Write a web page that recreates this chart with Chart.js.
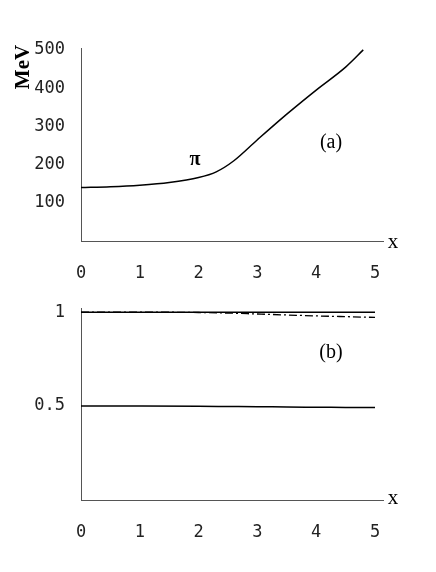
<!DOCTYPE html>
<html><head><meta charset="utf-8">
<script src="https://cdn.jsdelivr.net/npm/chart.js@4/dist/chart.umd.min.js"></script>
<style>body{margin:0;background:#fff}canvas{position:absolute;left:0}</style>
</head><body>
<div style="position:absolute;left:0;top:0;width:436px;height:290px"><canvas id="c1"></canvas></div>
<div style="position:absolute;left:0;top:290px;width:436px;height:282px"><canvas id="c2"></canvas></div>
<script>
const xTicks=[0,1,2,3,4,5];
const yTicksA=[100,200,300,400,500];
const yTicksB=[0.5,1];
const piX=[0,0.5,1,1.5,2,2.3,2.6,3,3.5,4,4.5,4.8];
const piY=[140,142,146,153,166,181,210,265,332,395,455,500];
const bX=[0,1,2,2.5,3,3.5,4,4.5,5];
const bTop=[1,1,1,1,1,1,1,1,1];
const bDash=[1,1,0.998,0.995,0.99,0.985,0.98,0.976,0.972];
const bHalf=[0.5,0.5,0.499,0.498,0.497,0.495,0.494,0.493,0.492];

const tickFont={family:'DejaVu Sans Mono',size:17};
function pts(xs,ys){return xs.map((x,i)=>({x,y:ys[i]}));}
function texts(list){return{id:'t',afterDraw(ch){const c=ch.ctx;c.save();c.fillStyle='#000';c.textAlign='center';c.textBaseline='middle';
 for(const t of list){c.font=t.f;if(t.r){c.save();c.translate(t.x,t.y);c.rotate(-Math.PI/2);c.fillText(t.s,0,0);c.restore();}else c.fillText(t.s,t.x,t.y);}c.restore();}};}
function mk(id,ds,ymax,yt,ylab,xh,top,list){
 return new Chart(document.getElementById(id),{type:'line',data:{datasets:ds},
 options:{responsive:true,maintainAspectRatio:false,animation:false,
  layout:{padding:{left:0,right:53,top:top,bottom:0}},
  plugins:{legend:{display:false},tooltip:{enabled:false}},
  elements:{point:{radius:0},line:{cubicInterpolationMode:'monotone',borderWidth:1.5,borderColor:'#000'}},
  scales:{
   x:{type:'linear',min:0,max:5.136,afterBuildTicks:s=>{s.ticks=xTicks.map(v=>({value:v}));},
      afterFit:s=>{s.height=xh;},grid:{display:false},border:{color:'#555',width:1},
      ticks:{font:tickFont,color:'#222',padding:14,maxRotation:0,callback:v=>String(v)}},
   y:{type:'linear',min:0,max:ymax,afterBuildTicks:s=>{s.ticks=yt.map(v=>({value:v}));},
      afterFit:s=>{s.width=81;},grid:{display:false},border:{color:'#555',width:1},
      ticks:{font:tickFont,color:'#222',padding:8,callback:ylab}}
  }},plugins:[texts(list)]});
}
mk('c1',[{data:pts(piX,piY)}],505,yTicksA,v=>String(v),49,48,[
 {s:'MeV',x:24,y:67,f:'bold 21px "Liberation Serif"',r:true},
 {s:'x',x:393,y:242,f:'21px "Liberation Serif"'},
 {s:'(a)',x:331,y:143,f:'20px "Liberation Serif"'},
 {s:'π',x:195,y:160,f:'bold 20px "Liberation Serif"'}]);
mk('c2',[{data:pts(bX,bTop)},{data:pts(bX,bDash),borderDash:[8,3,2,3],borderWidth:1.3},{data:pts(bX,bHalf)}],1.021,yTicksB,v=>v===1?'1':'0.5',72,18,[
 {s:'x',x:393,y:208,f:'21px "Liberation Serif"'},
 {s:'(b)',x:331,y:63,f:'20px "Liberation Serif"'}]);
</script></body></html>
